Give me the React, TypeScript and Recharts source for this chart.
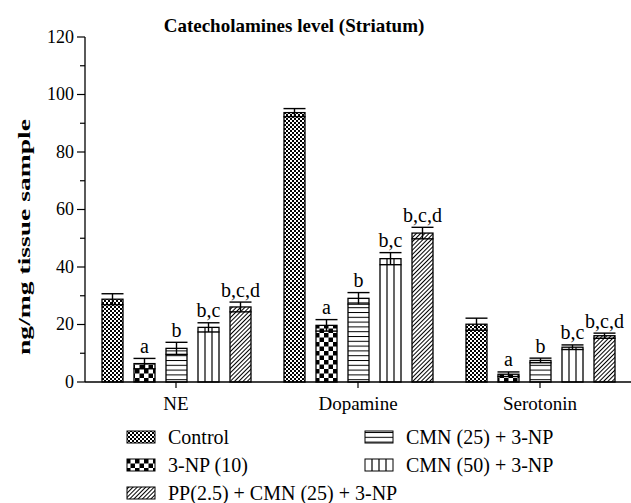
import React from 'react';
import { BarChart, Bar, XAxis, YAxis, ErrorBar } from 'recharts';

const categories = ['NE', 'Dopamine', 'Serotonin'];
const yTicks = [0, 10, 20, 30, 40, 50, 60, 70, 80, 90, 100, 110, 120];

const control = [28.8, 93.7, 20.1];
const controlErr = [1.9, 1.4, 2.1];
const np3 = [6.4, 19.7, 2.7];
const np3Err = [1.8, 2.0, 0.8];
const cmn25 = [11.7, 29.1, 7.5];
const cmn25Err = [2.1, 2.0, 0.8];
const cmn50 = [19.0, 42.9, 12.1];
const cmn50Err = [1.6, 2.1, 0.8];
const pp = [26.1, 51.8, 16.1];
const ppErr = [1.7, 2.0, 0.9];

const seriesNames = ['Control', '3-NP (10)', 'CMN (25) + 3-NP', 'CMN (50) + 3-NP', 'PP(2.5) + CMN (25) + 3-NP'];
const seriesLetters = ['', 'a', 'b', 'b,c', 'b,c,d'];

const FONT = "'Liberation Serif', 'Times New Roman', serif";

const series = [
  { key: 'control', values: control, errs: controlErr, pattern: 'patCtrl' },
  { key: 'np3', values: np3, errs: np3Err, pattern: 'patNp' },
  { key: 'cmn25', values: cmn25, errs: cmn25Err, pattern: 'patH' },
  { key: 'cmn50', values: cmn50, errs: cmn50Err, pattern: 'white' },
  { key: 'pp', values: pp, errs: ppErr, pattern: 'patDiag' },
].map((s, i) => ({ ...s, name: seriesNames[i], letter: seriesLetters[i] }));

const rows = categories.map((c, ci) => {
  const r: any = { name: c };
  series.forEach((s) => {
    r[s.key] = s.values[ci];
    r[s.key + 'Err'] = s.errs[ci];
  });
  return r;
});

const fillFor = (p: string) => (p === 'white' ? '#fff' : `url(#${p})`);

const VLines = ({ x, y, w, h }: any) => {
  const out: any[] = [];
  for (let xx = x + 7; xx < x + w - 2; xx += 7) {
    out.push(<line key={xx} x1={xx} x2={xx} y1={y} y2={y + h} stroke="#000" strokeWidth={1.2} />);
  }
  return <g>{out}</g>;
};

const makeShape = (s: any) => (props: any) => {
  const { x, y, width, height, payload } = props;
  const v = payload[s.key];
  const e = payload[s.key + 'Err'];
  const k = v ? height / v : 0;
  const top = y - e * k;
  return (
    <g>
      <rect x={x} y={y} width={width} height={height} fill={fillFor(s.pattern)} stroke="#000" strokeWidth={1.3} />
      {s.key === 'cmn50' && <VLines x={x} y={y} w={width} h={height} />}
      {s.letter && (
        <text x={x + width / 2} y={top - 5.5} textAnchor="middle" fontSize={20} fontFamily={FONT} fill="#000">
          {s.letter}
        </text>
      )}
    </g>
  );
};

const YTick = (props: any) => {
  const { x, y, payload } = props;
  const v = payload.value;
  const major = v % 20 === 0;
  return (
    <g>
      <line x1={x - (major ? 8 : 5)} x2={x} y1={y} y2={y} stroke="#000" strokeWidth={1.2} />
      {major && (
        <text x={x - 11} y={y} dy="0.33em" textAnchor="end" fontSize={18} fontFamily={FONT} fill="#000">
          {v}
        </text>
      )}
    </g>
  );
};

const XTick = (props: any) => {
  const { x, y, payload } = props;
  return (
    <g>
      <line x1={x} x2={x} y1={y} y2={y + 6} stroke="#000" strokeWidth={1.2} />
      <text x={x} y={y + 28} textAnchor="middle" fontSize={19} fontFamily={FONT} fill="#000">
        {payload.value}
      </text>
    </g>
  );
};

const legendPos = [
  { x: 127, base: 443.5 },
  { x: 127, base: 471.5 },
  { x: 365, base: 443.5 },
  { x: 365, base: 471.5 },
  { x: 127, base: 499.5 },
];

export default function App() {
  return (
    <div style={{ position: 'absolute', left: 0, top: 0, width: 631, height: 503, background: '#fff' }}>
      <svg width={0} height={0} style={{ position: 'absolute' }}>
        <defs>
          <pattern id="patCtrl" width={4} height={4} patternUnits="userSpaceOnUse">
            <rect width={4} height={4} fill="#fff" />
            <rect x={0} y={0} width={2} height={2} fill="#000" />
            <rect x={2} y={2} width={2} height={2} fill="#000" />
          </pattern>
          <pattern id="patNp" width={9} height={9} patternUnits="userSpaceOnUse">
            <rect width={9} height={9} fill="#fff" />
            <rect x={0} y={0} width={4.5} height={4.5} fill="#000" />
            <rect x={4.5} y={4.5} width={4.5} height={4.5} fill="#000" />
          </pattern>
          <pattern id="patH" width={10} height={4.8} patternUnits="userSpaceOnUse">
            <rect width={10} height={4.8} fill="#fff" />
            <line x1={0} x2={10} y1={0.5} y2={0.5} stroke="#000" strokeWidth={1} />
          </pattern>
          <pattern id="patDiag" width={3} height={3} patternUnits="userSpaceOnUse" patternTransform="rotate(45)">
            <rect width={3} height={3} fill="#fff" />
            <line x1={0.5} x2={0.5} y1={0} y2={3} stroke="#000" strokeWidth={1} />
          </pattern>
        </defs>
      </svg>
      <BarChart
        width={631}
        height={503}
        data={rows}
        margin={{ top: 37, right: 0, left: 0, bottom: 91 }}
        barSize={21}
        barGap={11}
      >
        <XAxis
          dataKey="name"
          height={30}
          axisLine={{ stroke: '#000', strokeWidth: 1.3 }}
          tickLine={false}
          tickSize={0}
          tickMargin={0}
          tick={<XTick />}
          interval={0}
        />
        <YAxis
          width={85}
          domain={[0, 120]}
          ticks={yTicks}
          axisLine={{ stroke: '#000', strokeWidth: 1.3 }}
          tickLine={false}
          tickSize={0}
          tickMargin={0}
          tick={<YTick />}
          interval={0}
        />
        {series.map((s) => (
          <Bar key={s.key} dataKey={s.key} name={s.name} shape={makeShape(s)} isAnimationActive={false}>
            <ErrorBar dataKey={s.key + 'Err'} width={11} stroke="#000" strokeWidth={1.4} />
          </Bar>
        ))}
      </BarChart>
      <svg width={631} height={503} style={{ position: 'absolute', left: 0, top: 0, pointerEvents: 'none' }}>
        <text x={294} y={32} textAnchor="middle" fontSize={19} fontWeight="bold" fontFamily={FONT} fill="#000">
          Catecholamines level (Striatum)
        </text>
        <text
          x={30}
          y={237}
          transform="rotate(-90, 30, 237)"
          textAnchor="middle"
          fontSize={16}
          fontWeight="bold"
          fontFamily={FONT}
          textLength={236}
          lengthAdjust="spacingAndGlyphs"
          fill="#000"
        >
          ng/mg tissue sample
        </text>
        {series.map((s, i) => {
          const p = legendPos[i];
          const iy = p.base - 12.5;
          return (
            <g key={s.key}>
              <rect x={p.x} y={iy} width={28} height={12} fill={fillFor(s.pattern)} stroke="#000" strokeWidth={1} />
              {s.key === 'cmn50' && <VLines x={p.x} y={iy} w={28} h={12} />}
              <text x={p.x + 41} y={p.base} fontSize={20} fontFamily={FONT} fill="#000">
                {s.name}
              </text>
            </g>
          );
        })}
      </svg>
    </div>
  );
}
